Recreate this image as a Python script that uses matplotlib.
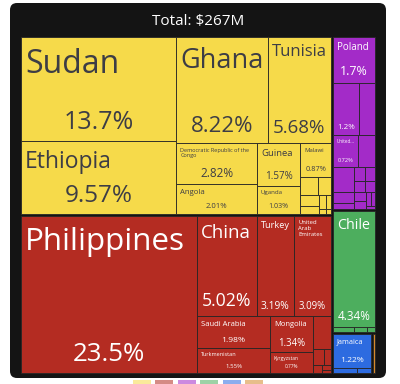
import matplotlib
matplotlib.use("Agg")
import matplotlib.pyplot as plt
from matplotlib.patches import Rectangle, FancyBboxPatch

plt.rcParams["font.family"] = ["Open Sans", "DejaVu Sans"]

# ---------- data: share of total trade value (%) ----------
TOTAL_M = 267
CONTINENTS = ["Africa", "Asia", "Europe", "South America", "North America", "Oceania"]

AFRICA_LABELS = ["Sudan", "Ethiopia", "Ghana", "Tunisia",
                 "Democratic Republic of the Congo", "Angola", "Guinea",
                 "Uganda", "Malawi"] + [None] * 8
AFRICA_VALUES = [13.7, 9.57, 8.22, 5.68, 2.82, 2.01, 1.57, 1.03, 0.87,
                 0.27, 0.2, 0.18, 0.12, 0.08, 0.05, 0.03, 0.02]

ASIA_LABELS = ["Philippines", "China", "Turkey", "United Arab Emirates",
               "Saudi Arabia", "Turkmenistan", "Mongolia", "Kyrgyzstan"] + [None] * 6
ASIA_VALUES = [23.5, 5.02, 3.19, 3.09, 1.98, 1.55, 1.34, 0.77,
               0.5, 0.15, 0.09, 0.06, 0.04, 0.02]

EUROPE_LABELS = ["Poland", "", None, "United..."] + [None] * 13
EUROPE_VALUES = [1.7, 1.2, 0.75, 0.72, 0.48, 0.46, 0.21, 0.13,
                 0.13, 0.12, 0.11, 0.1, 0.09, 0.08, 0.06, 0.05, 0.03]

SAMERICA_LABELS = ["Chile", None, None, None]
SAMERICA_VALUES = [4.34, 0.08, 0.05, 0.03]

NAMERICA_LABELS = ["Jamaica", None, None]
NAMERICA_VALUES = [1.22, 0.1, 0.06]

OCEANIA_LABELS = [None]
OCEANIA_VALUES = [0.14]

GROUPS = [(AFRICA_LABELS, AFRICA_VALUES), (ASIA_LABELS, ASIA_VALUES),
          (EUROPE_LABELS, EUROPE_VALUES), (SAMERICA_LABELS, SAMERICA_VALUES),
          (NAMERICA_LABELS, NAMERICA_VALUES), (OCEANIA_LABELS, OCEANIA_VALUES)]

# ---------- style ----------
COLORS = ["#F6DA4A", "#B42C22", "#A32BC8", "#4DAE5E", "#2D6BE0", "#D4892C"]
TEXT_DARK = "#3d3d45"
# label -> (name size, pct size) in pt
STYLE = {
    "Sudan": (23, 18), "Ethiopia": (16.5, 17.5), "Ghana": (19.5, 16),
    "Tunisia": (12, 13.5), "Democratic Republic of the Congo": (4, 8.5),
    "Angola": (5.6, 5.6), "Guinea": (6.8, 7.1), "Uganda": (4.4, 5.1),
    "Malawi": (4.3, 5.3), "Philippines": (22.6, 18.6), "China": (13.4, 12.7),
    "Turkey": (6.6, 7.4), "United Arab Emirates": (4.3, 6.9),
    "Saudi Arabia": (5.5, 6.1), "Turkmenistan": (4, 4.3), "Mongolia": (5.5, 6.9),
    "Kyrgyzstan": (3.5, 3.4), "Poland": (7, 8.9), "": (0, 5.7),
    "United...": (3.3, 4.1), "Chile": (10.3, 8.4), "Jamaica": (5.3, 6.1),
}
WRAP = {"Democratic Republic of the Congo": "Democratic Republic of the\nCongo",
        "United Arab Emirates": "United\nArab\nEmirates"}

PHI = (1 + 5 ** 0.5) / 2


def squarify(values, x0, y0, x1, y1):
    """d3-style squarified layout; y grows downward."""
    rects = []
    total = float(sum(values))
    i0, n = 0, len(values)
    while i0 < n:
        dx, dy = x1 - x0, y1 - y0
        s = mn = mx = values[i0]
        alpha = max(dy / dx, dx / dy) / (total * PHI)
        beta = s * s * alpha
        best = max(mx / beta, beta / mn)
        i1 = i0 + 1
        while i1 < n:
            v = values[i1]
            beta = (s + v) ** 2 * alpha
            r = max(max(mx, v) / beta, beta / min(mn, v))
            if r > best:
                break
            s, best = s + v, r
            mn, mx = min(mn, v), max(mx, v)
            i1 += 1
        row = values[i0:i1]
        if dx < dy:
            h = dy * s / total
            xs = x0
            for v in row:
                w = dx * v / s
                rects.append((xs, y0, w, h))
                xs += w
            y0 += h
        else:
            w = dx * s / total
            ys = y0
            for v in row:
                h = dy * v / s
                rects.append((x0, ys, w, h))
                ys += h
            x0 += w
        total -= s
        i0 = i1
    return rects


fig = plt.figure(figsize=(4, 3.84), dpi=100)
ax = fig.add_axes([0, 0, 1, 1])
ax.set_xlim(0, 400)
ax.set_ylim(384, 0)
ax.axis("off")

ax.add_patch(FancyBboxPatch((10, 3), 376, 375, boxstyle="round,pad=0,rounding_size=7",
                            fc="#141414", ec="none", zorder=0))
ax.text(198, 25, f"Total: ${TOTAL_M}M", ha="center", va="baseline",
        color="white", fontsize=11)

# legend swatches peeking out under the card
for i, c in enumerate(COLORS):
    ax.add_patch(Rectangle((133 + i * 22.4, 380), 18, 8, fc=c, ec="none",
                           alpha=0.55, zorder=0))

cont_totals = [sum(v) for _, v in GROUPS]
cont_rects = squarify(cont_totals, 20, 36, 376, 374)

for (labels, values), (cx, cy, cw, ch), col in zip(GROUPS, cont_rects, COLORS):
    tc = TEXT_DARK if col == COLORS[0] else "white"
    cells = squarify(values, cx + 1, cy + 1, cx + cw - 1, cy + ch - 1)
    for lab, v, (x, y, w, h) in zip(labels, values, cells):
        ax.add_patch(Rectangle((x, y), w, h, fc=col, ec="#262626", lw=0.6, zorder=2))
        if lab is None:
            continue
        nfs, pfs = STYLE[lab]
        if lab:
            ax.text(x + 4, y + 3 + 0.35 * nfs, WRAP.get(lab, lab), ha="left", va="top",
                    fontsize=nfs, color=tc, linespacing=1.2, zorder=3)
        ax.text(x + w / 2, y + h - (3 + 0.5 * pfs), f"{v:.3g}%", ha="center",
                va="baseline", fontsize=pfs, color=tc, zorder=3)

fig.savefig("out.png", dpi=100, facecolor="white")
